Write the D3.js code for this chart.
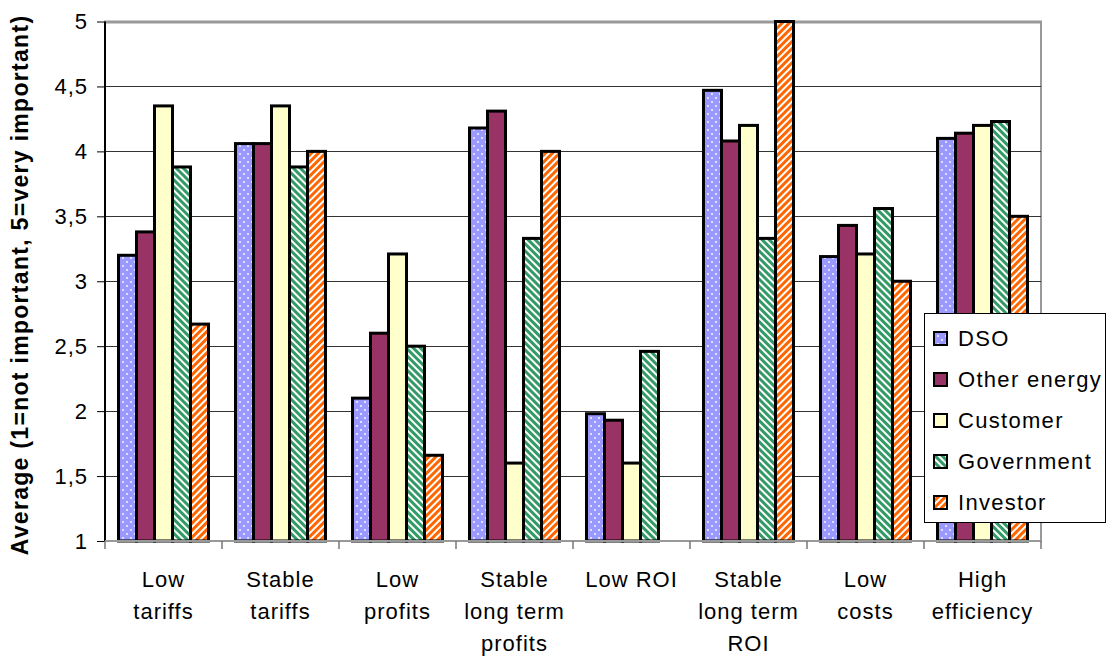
<!DOCTYPE html>
<html><head><meta charset="utf-8">
<script src="https://cdn.jsdelivr.net/npm/d3@7"></script>
<style>body{margin:0;background:#fff;} svg{display:block;} text{font-family:"Liberation Sans",Arial,sans-serif;fill:#000;}</style>
</head><body>
<svg id="c" width="1106" height="656"></svg>
<script>
const categories = [["Low","tariffs"],["Stable","tariffs"],["Low","profits"],["Stable","long term","profits"],["Low ROI"],["Stable","long term","ROI"],["Low","costs"],["High","efficiency"]];
const seriesNames = ["DSO","Other energy","Customer","Government","Investor"];
const dso        = [3.20, 4.06, 2.10, 4.18, 1.98, 4.47, 3.19, 4.10];
const otherEnergy= [3.38, 4.06, 2.60, 4.31, 1.93, 4.08, 3.43, 4.14];
const customer   = [4.35, 4.35, 3.21, 1.60, 1.60, 4.20, 3.21, 4.20];
const government = [3.88, 3.88, 2.50, 3.33, 2.46, 3.33, 3.56, 4.23];
const investor   = [2.67, 4.00, 1.66, 4.00, null, 5.00, 3.00, 3.50];
const yTicks = [1,1.5,2,2.5,3,3.5,4,4.5,5];
const seriesValues = [dso, otherEnergy, customer, government, investor];

const svg = d3.select("#c");
const L=105, R=1041, T=21.5, B=541;
const catIdx = d3.range(categories.length);
const x0 = d3.scaleBand().domain(catIdx).range([L,R]).paddingInner(0).paddingOuter(0);
const x1 = d3.scaleBand().domain(d3.range(seriesNames.length)).range([0,x0.bandwidth()]).paddingInner(0).paddingOuter(0.75);
const y = d3.scaleLinear().domain([1,5]).range([B,T]);

// patterns
const defs = svg.append("defs");
const pd = defs.append("pattern").attr("id","p0").attr("width",8).attr("height",8).attr("patternUnits","userSpaceOnUse");
pd.append("rect").attr("width",8).attr("height",8).attr("fill","#9999FF");
pd.append("circle").attr("cx",2).attr("cy",2).attr("r",0.9).attr("fill","#fff");
pd.append("circle").attr("cx",6).attr("cy",6).attr("r",0.9).attr("fill","#fff");
function stripe(id, color, angle){
  const p = defs.append("pattern").attr("id",id).attr("width",5).attr("height",5).attr("patternUnits","userSpaceOnUse").attr("patternTransform",`rotate(${angle})`);
  p.append("rect").attr("width",5).attr("height",5).attr("fill","#fff");
  p.append("rect").attr("width",3).attr("height",5).attr("fill",color);
}
stripe("p3","#339966",-45);
stripe("p4","#FF6600",45);
const fills = ["url(#p0)","#993366","#FFFFCC","url(#p3)","url(#p4)"];

// plot border (gray)
svg.append("rect").attr("x",L).attr("y",T).attr("width",R-L).attr("height",B-T).attr("fill","none").attr("stroke","#999").attr("stroke-width",2);
// gridlines
svg.append("g").selectAll("line").data(yTicks.filter(d=>d>1)).join("line")
  .attr("x1",L).attr("x2",R).attr("y1",d=>Math.round(y(d))+0.5).attr("y2",d=>Math.round(y(d))+0.5)
  .attr("stroke",(d)=> d===5 ? "#999" : "#333").attr("stroke-width",d=>d===5?2:1);

// bars
const gs = svg.append("g").selectAll("g").data(catIdx).join("g").attr("transform",i=>`translate(${x0(i)},0)`);
gs.selectAll("rect").data(i=>seriesValues.map((s,k)=>({k,v:s[i]})).filter(d=>d.v!=null)).join("rect")
  .attr("x",d=>x1(d.k)).attr("width",x1.bandwidth())
  .attr("y",d=>y(d.v)).attr("height",d=>B-y(d.v))
  .attr("fill",d=>fills[d.k]).attr("stroke","#000").attr("stroke-width",3);

// y axis
const ya = svg.append("g").attr("transform",`translate(${L},0)`)
  .call(d3.axisLeft(y).tickValues(yTicks).tickSize(8).tickPadding(9).tickFormat(d=>String(d).replace(".",",")));
ya.select(".domain").attr("stroke","#000").attr("stroke-width",2).attr("d",`M0,${T}V${B}`);
ya.selectAll(".tick line").attr("stroke","#000");
ya.selectAll(".tick text").attr("font-size",22).attr("letter-spacing","1px").attr("font-family","Liberation Sans, Arial, sans-serif");

// x axis
const xa = svg.append("g").attr("transform",`translate(0,${B})`);
xa.append("line").attr("x1",L).attr("x2",R).attr("y1",0).attr("y2",0).attr("stroke","#999").attr("stroke-width",2);
xa.selectAll(".tk").data(d3.range(categories.length+1)).join("line")
  .attr("x1",i=>i<categories.length?x0(i):R).attr("x2",i=>i<categories.length?x0(i):R)
  .attr("y1",0).attr("y2",8).attr("stroke","#777").attr("stroke-width",1.5);
const xl = xa.selectAll(".lbl").data(catIdx).join("text")
  .attr("text-anchor","middle").attr("font-size",22).attr("letter-spacing","1px")
  .attr("transform",i=>`translate(${x0(i)+x0.bandwidth()/2},0)`);
xl.selectAll("tspan").data(i=>categories[i]).join("tspan")
  .attr("x",0).attr("y",(d,j)=>46+j*32).text(d=>d);

// y title
svg.append("text").attr("transform","translate(28,285) rotate(-90)")
  .attr("text-anchor","middle").attr("font-size",23).attr("font-weight","bold").attr("letter-spacing","1.3px")
  .text("Average (1=not important, 5=very important)");

// legend
const lg = svg.append("g").attr("transform","translate(924,313)");
lg.append("rect").attr("x",0.5).attr("y",0.5).attr("width",181).attr("height",209).attr("fill","#fff").attr("stroke","#000").attr("stroke-width",1);
const li = lg.selectAll(".li").data(seriesNames).join("g").attr("transform",(d,i)=>`translate(0,${25+i*41})`);
li.append("rect").attr("x",10).attr("y",-6).attr("width",13).attr("height",13).attr("fill",(d,i)=>fills[i]).attr("stroke","#000").attr("stroke-width",2);
li.append("text").attr("x",34).attr("y",8).attr("font-size",22).attr("letter-spacing","1.3px").text(d=>d);
</script>
</body></html>
